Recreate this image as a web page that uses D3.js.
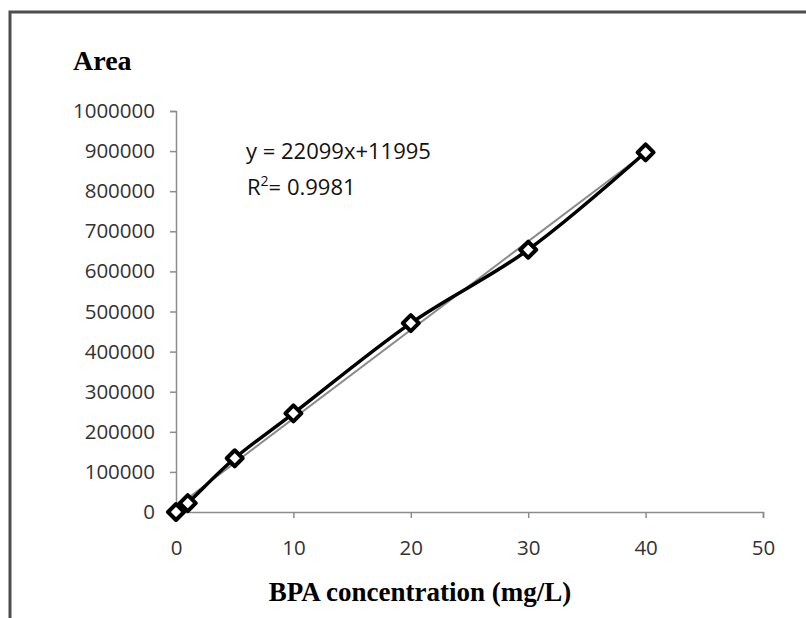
<!DOCTYPE html>
<html>
<head>
<meta charset="utf-8">
<script src="https://cdn.jsdelivr.net/npm/d3@7"></script>
<style>
  body { margin: 0; background: #fff; }
  svg { display: block; }
</style>
</head>
<body>
<div id="chart"></div>
<script>
// data
const conc = [0, 1, 5, 10, 20, 30, 40];
const area = [0, 22000, 134000, 246000, 471000, 654000, 897000];
const xTicks = [0, 10, 20, 30, 40, 50];
const yTicks = [0, 100000, 200000, 300000, 400000, 500000, 600000, 700000, 800000, 900000, 1000000];
const slope = 22099, intercept = 11995;

const width = 806;
const height = 618;

const svg = d3.select("#chart")
  .append("svg")
  .attr("width", width)
  .attr("height", height);

svg.append("rect")
  .attr("width", width).attr("height", height)
  .attr("fill", "#fff");

// outer frame (cut off right and bottom)
svg.append("rect")
  .attr("x", 10).attr("y", 12)
  .attr("width", 900).attr("height", 700)
  .attr("fill", "none")
  .attr("stroke", "#4d4d4d")
  .attr("stroke-width", 3);

const x = d3.scaleLinear().domain([0, 50]).range([176, 763]);
const y = d3.scaleLinear().domain([0, 1000000]).range([512, 111]);

// Y axis
const yAxis = svg.append("g")
  .attr("transform", `translate(${x(0)},0)`)
  .call(d3.axisLeft(y).tickValues(yTicks).tickFormat(d3.format("d")).tickSize(6).tickPadding(15).tickSizeOuter(6));

// X axis
const xAxis = svg.append("g")
  .attr("transform", `translate(0,${y(0)})`)
  .call(d3.axisBottom(x).tickValues(xTicks).tickSize(6).tickPadding(22).tickSizeOuter(6));

[yAxis, xAxis].forEach(g => {
  g.selectAll("path, line").attr("stroke", "#8c8c8c").attr("stroke-width", 1.5);
  g.selectAll("text")
    .attr("fill", "#333")
    .style("font-family", "'Open Sans', sans-serif")
    .style("font-size", "20.5px");
});

// linear trend line
svg.append("line")
  .attr("x1", x(0)).attr("y1", y(intercept))
  .attr("x2", x(40)).attr("y2", y(slope * 40 + intercept))
  .attr("stroke", "#8a8a8a")
  .attr("stroke-width", 2);

// smoothed data line
const pts = conc.map((c, i) => [c, area[i]]);
svg.append("path")
  .datum(pts)
  .attr("fill", "none")
  .attr("stroke", "#000")
  .attr("stroke-width", 3.5)
  .attr("d", d3.line().x(d => x(d[0])).y(d => y(d[1])).curve(d3.curveCatmullRom.alpha(0)));

// diamond markers
svg.selectAll(".marker")
  .data(pts)
  .join("path")
  .attr("class", "marker")
  .attr("transform", d => `translate(${x(d[0])},${y(d[1])})`)
  .attr("d", "M0,-8L8,0L0,8L-8,0Z")
  .attr("fill", "#fff")
  .attr("stroke", "#000")
  .attr("stroke-width", 4)
  .attr("stroke-linejoin", "round");

// equation
const eq = svg.append("text")
  .attr("x", 246).attr("y", 159)
  .attr("fill", "#111")
  .style("font-family", "'Open Sans', sans-serif")
  .style("font-size", "22px")
  .text("y = 22099x+11995");

const r2 = svg.append("text")
  .attr("x", 247).attr("y", 195)
  .attr("fill", "#111")
  .style("font-family", "'Open Sans', sans-serif")
  .style("font-size", "22px");
r2.append("tspan").text("R");
r2.append("tspan").attr("dy", -9).style("font-size", "14px").text("2");
r2.append("tspan").attr("dy", 9).text("= 0.9981");

// axis titles
svg.append("text")
  .attr("x", 73).attr("y", 70)
  .style("font-family", "'Liberation Serif', serif")
  .style("font-weight", "bold")
  .style("font-size", "28px")
  .text("Area");

svg.append("text")
  .attr("x", 420).attr("y", 601)
  .attr("text-anchor", "middle")
  .style("font-family", "'Liberation Serif', serif")
  .style("font-weight", "bold")
  .style("font-size", "27px")
  .text("BPA concentration (mg/L)");
</script>
</body>
</html>
